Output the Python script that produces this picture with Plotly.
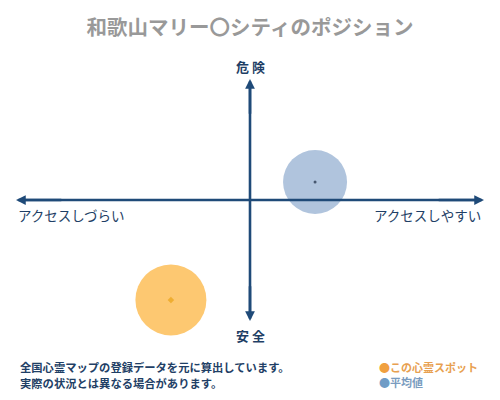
import plotly.graph_objects as go

# ---- data ----
title_text = "和歌山マリー〇シティのポジション"
axis_labels = {"top": "危 険", "bottom": "安 全", "left": "アクセスしづらい", "right": "アクセスしやすい"}
series_names = ["この心霊スポット", "平均値"]
x_access = [-0.338, 0.278]     # -1 = アクセスしづらい, +1 = アクセスしやすい
y_danger = [-0.826, 0.149]     # -1 = 安全, +1 = 危険
bubble_sizes = [71, 64]
note_lines = ["全国心霊マップの登録データを元に算出しています。", "実際の状況とは異なる場合があります。"]

fill_colors = ["#FDC871", "#B0C4DD"]
dot_colors = ["#E8A317", "#1A2A40"]
dot_sizes = [5, 3]
legend_dot_colors = ["#F0A040", "#6F9CC6"]
legend_text_colors = ["#E8A050", "#7A9CC0"]

NAVY = "#1F4A78"
TEXT_NAVY = "#1F3F66"
FONT = "Noto Sans CJK JP"

fig = go.Figure()

# bubbles
fig.add_trace(go.Scatter(
    x=x_access, y=y_danger, mode="markers",
    marker=dict(size=bubble_sizes, color=fill_colors, line=dict(width=0), opacity=1),
    hoverinfo="skip", showlegend=False))
# centre dots
fig.add_trace(go.Scatter(
    x=x_access, y=y_danger, mode="markers",
    marker=dict(size=dot_sizes, color=dot_colors, symbol=["diamond", "circle"], line=dict(width=0)),
    hoverinfo="skip", showlegend=False))

# axis lines
fig.add_shape(type="line", x0=-0.97, x1=0.97, y0=0, y1=0, xref="x", yref="y",
              line=dict(color=NAVY, width=2.6), layer="above")
fig.add_shape(type="line", x0=0, x1=0, y0=-0.95, y1=0.95, xref="x", yref="y",
              line=dict(color=NAVY, width=2.6), layer="above")
# arrowheads
ends = [(-1, 0, -0.8, 0), (1, 0, 0.8, 0), (0, 1, 0, 0.7), (0, -1, 0, -0.7)]
for ex, ey, sx, sy in ends:
    fig.add_annotation(x=ex, y=ey, ax=sx, ay=sy, xref="x", yref="y", axref="x", ayref="y",
                       showarrow=True, arrowhead=2, arrowsize=0.75, arrowwidth=2.6,
                       arrowcolor=NAVY, text="")

lab_font = dict(family=FONT, size=13, color=TEXT_NAVY)
fig.add_annotation(x=0.5, y=1 - 66 / 400, xref="paper", yref="paper", text="<b>" + axis_labels["top"] + "</b>",
                   showarrow=False, font=lab_font, xanchor="center", yanchor="middle")
fig.add_annotation(x=0.5, y=1 - 335 / 400, xref="paper", yref="paper", text="<b>" + axis_labels["bottom"] + "</b>",
                   showarrow=False, font=lab_font, xanchor="center", yanchor="middle")
fig.add_annotation(x=16 / 500, y=1 - 215 / 400, xref="paper", yref="paper", text=axis_labels["left"],
                   showarrow=False, font=dict(family=FONT, size=13.5, color=TEXT_NAVY), xanchor="left", yanchor="middle")
fig.add_annotation(x=483 / 500, y=1 - 215 / 400, xref="paper", yref="paper", text=axis_labels["right"],
                   showarrow=False, font=dict(family=FONT, size=13.5, color=TEXT_NAVY), xanchor="right", yanchor="middle")

# notes
for i, line in enumerate(note_lines):
    fig.add_annotation(x=18 / 500, y=1 - (367 + 15.5 * i) / 400, xref="paper", yref="paper",
                       text="<b>" + line + "</b>", showarrow=False,
                       font=dict(family=FONT, size=11.3, color=TEXT_NAVY), xanchor="left", yanchor="middle")

# legend
for i, name in enumerate(series_names):
    fig.add_annotation(x=377 / 500, y=1 - (367 + 15 * i) / 400, xref="paper", yref="paper",
                       text=f"<span style='color:{legend_dot_colors[i]}'>●</span><b>{name}</b>",
                       showarrow=False, font=dict(family=FONT, size=11, color=legend_text_colors[i]),
                       xanchor="left", yanchor="middle")

fig.update_layout(
    width=500, height=400,
    margin=dict(l=0, r=0, t=0, b=0),
    paper_bgcolor="white", plot_bgcolor="white",
    title=dict(text="<b>" + title_text + "</b>", x=0.5, y=1 - 28 / 400, xanchor="center", yanchor="middle",
               font=dict(family=FONT, size=20.5, color="#999999")),
    xaxis=dict(range=[-250 / 234, 250 / 234], visible=False, fixedrange=True),
    yaxis=dict(range=[-200 / 121, 200 / 121], visible=False, fixedrange=True),
    showlegend=False,
)

fig.write_html("out.html", config={"displayModeBar": False},
               post_script="document.body.style.margin='0';document.body.style.overflow='hidden';")
